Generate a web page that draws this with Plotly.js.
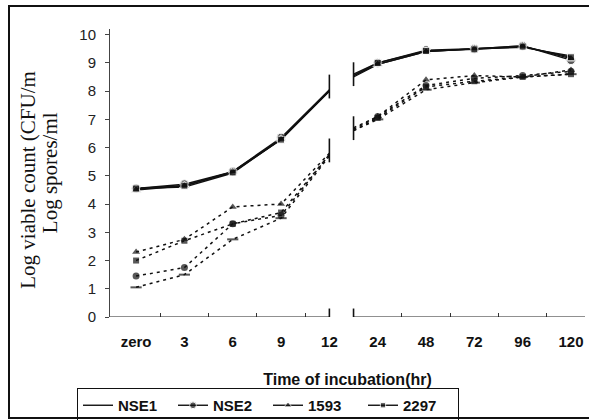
<!DOCTYPE html>
<html>
<head>
<meta charset="utf-8">
<script src="https://cdn.plot.ly/plotly-3.0.1.min.js"></script>
<style>
  body { margin: 0; background: #fff; }
  #wrap { position: relative; width: 589px; height: 420px; overflow: hidden; }
  #chart { position: absolute; left: 0; top: 0; width: 589px; height: 420px; }
  #frame { position: absolute; left: 8px; top: 5px; width: 600px; height: 410px;
           border: 2px solid #111; pointer-events: none; }
</style>
</head>
<body>
<div id="wrap"><div id="chart"></div><div id="frame"></div></div>
<script>
// Categories (time of incubation, hr)
const categories = ['zero', '3', '6', '9', '12', '24', '48', '72', '96', '120'];

// Log viable count (CFU/ml) - solid lines
const nse1Viable  = [4.55, 4.60, 5.10, 6.30, 8.00, 8.95, 9.40, 9.50, 9.55, 9.25];
const nse2Viable  = [4.55, 4.70, 5.15, 6.35, 8.05, 9.00, 9.45, 9.50, 9.60, 9.10];
const s1593Viable = [4.50, 4.65, 5.15, 6.30, 8.00, 8.95, 9.40, 9.50, 9.60, 9.15];
const s2297Viable = [4.55, 4.65, 5.12, 6.28, 8.00, 9.00, 9.42, 9.48, 9.58, 9.20];
// value where each solid line resumes after the axis break
const viableRestart = {NSE1: 8.50, NSE2: 8.60, '1593': 8.55, '2297': 8.55};

// Log spores/ml - dotted lines
const nse1Spores  = [1.05, 1.50, 2.75, 3.50, 5.70, 7.00, 8.05, 8.30, 8.50, 8.60];
const nse2Spores  = [1.45, 1.75, 3.30, 3.60, 5.75, 7.10, 8.20, 8.45, 8.55, 8.70];
const s1593Spores = [2.30, 2.75, 3.90, 4.00, 5.80, 7.10, 8.40, 8.55, 8.50, 8.75];
const s2297Spores = [2.00, 2.70, 3.30, 3.70, 5.75, 7.05, 8.15, 8.35, 8.50, 8.60];
const sporesRestart = {NSE1: 6.60, NSE2: 6.65, '1593': 6.70, '2297': 6.60};

const yTicks = [0, 1, 2, 3, 4, 5, 6, 7, 8, 9, 10];

// ---- build traces ----
const breakIdx = 4;          // '12' is the last category before the break
const breakGap = 0.5;        // the line resumes half a step after '12'
const pos = categories.map((c, i) => i);

function segX() {
  const xs = [];
  pos.forEach((p, i) => {
    xs.push(p);
    if (i === breakIdx) { xs.push(null); xs.push(p + breakGap); }
  });
  return xs;
}
function segY(vals, restart) {
  const ys = [];
  vals.forEach((v, i) => {
    ys.push(v);
    if (i === breakIdx) { ys.push(null); ys.push(restart); }
  });
  return ys;
}
function segSizes(size) {
  const s = [];
  pos.forEach((p, i) => {
    s.push(i === breakIdx ? 0 : size);
    if (i === breakIdx) { s.push(0); s.push(0); }
  });
  return s;
}

const styles = {
  NSE1:   {symbol: 'circle',      size: 0, dotSymbol: 'line-ew',     dotSize: 8},
  NSE2:   {symbol: 'circle',      size: 9, dotSymbol: 'circle',      dotSize: 7},
  '1593': {symbol: 'triangle-up', size: 9, dotSymbol: 'triangle-up', dotSize: 7},
  '2297': {symbol: 'square',      size: 7, dotSymbol: 'square',      dotSize: 6}
};
const viable = {NSE1: nse1Viable, NSE2: nse2Viable, '1593': s1593Viable, '2297': s2297Viable};
const spores = {NSE1: nse1Spores, NSE2: nse2Spores, '1593': s1593Spores, '2297': s2297Spores};
const names = ['NSE1', 'NSE2', '1593', '2297'];

const traces = [];
names.forEach(n => {
  const st = styles[n];
  traces.push({
    type: 'scatter', mode: st.size ? 'lines+markers' : 'lines', name: n,
    x: segX(), y: segY(viable[n], viableRestart[n]),
    line: {color: '#111', width: 1.4},
    marker: {symbol: st.symbol, size: segSizes(st.size), color: '#111'},
    showlegend: true, cliponaxis: false, hoverinfo: 'skip'
  });
});
names.forEach(n => {
  const st = styles[n];
  traces.push({
    type: 'scatter', mode: 'lines+markers', name: n + ' spores',
    x: segX(), y: segY(spores[n], sporesRestart[n]),
    line: {color: '#111', width: 1.5, dash: '3px,4px'},
    marker: {symbol: st.dotSymbol, size: segSizes(st.dotSize), color: '#111',
             line: {color: '#111', width: st.dotSymbol === 'line-ew' ? 2 : 0}},
    showlegend: false, hoverinfo: 'skip'
  });
});

// break bars at the end / restart of each group of lines
function mean(a) { return a.reduce((s, v) => s + v, 0) / a.length; }
const vEnd = mean(names.map(n => viable[n][breakIdx]));
const vRes = mean(names.map(n => viableRestart[n]));
const sEnd = mean(names.map(n => spores[n][breakIdx]));
const sRes = mean(names.map(n => sporesRestart[n]));
traces.push({
  type: 'scatter', mode: 'markers', showlegend: false, hoverinfo: 'skip',
  x: [breakIdx, breakIdx + breakGap, breakIdx, breakIdx + breakGap],
  y: [vEnd + 0.15, vRes + 0.05, sEnd + 0.15, sRes + 0.05],
  marker: {symbol: 'line-ns', size: 17, color: '#111', line: {color: '#111', width: 1.6}}
});

const xMin = -0.54, xMax = 9.29;
const shapes = [
  {type: 'line', xref: 'x', yref: 'y', x0: xMin, x1: breakIdx, y0: 0, y1: 0, line: {color: '#222', width: 1.2}},
  {type: 'line', xref: 'x', yref: 'y', x0: breakIdx + breakGap, x1: xMax, y0: 0, y1: 0, line: {color: '#222', width: 1.2}},
  {type: 'line', xref: 'x', yref: 'y', x0: breakIdx, x1: breakIdx, y0: -0.35, y1: 0.3, line: {color: '#111', width: 1.6}},
  {type: 'line', xref: 'x', yref: 'y', x0: breakIdx + breakGap, x1: breakIdx + breakGap, y0: -0.35, y1: 0.3, line: {color: '#111', width: 1.6}}
];

const minorTicks = [0.5, 1.5, 2.5, 3.5, 5.5, 6.5, 7.5, 8.5];

const layout = {
  width: 589, height: 420,
  margin: {l: 110, r: 4, t: 29, b: 103},
  paper_bgcolor: '#fff', plot_bgcolor: '#fff',
  showlegend: true,
  xaxis: {
    range: [xMin, xMax], showgrid: false, zeroline: false, showline: false, automargin: false,
    tickmode: 'array', tickvals: pos, ticktext: categories, ticks: '',
    ticklabelstandoff: 14,
    tickfont: {family: 'Liberation Sans, Arial, sans-serif', size: 15, color: '#111', weight: 'bold'},
    minor: {tickmode: 'array', tickvals: minorTicks, ticks: 'inside', ticklen: 4, tickcolor: '#333', tickwidth: 1},
    title: {text: 'Time of incubation(hr)', standoff: 26,
            font: {family: 'Liberation Sans, Arial, sans-serif', size: 16, color: '#111', weight: 'bold'}}
  },
  yaxis: {
    range: [0, 10.2], showgrid: false, zeroline: false, automargin: false,
    showline: true, linecolor: '#444', linewidth: 1,
    tickmode: 'array', tickvals: yTicks, ticks: 'outside', ticklen: 4, tickcolor: '#444',
    ticklabelstandoff: 6,
    tickfont: {family: 'Liberation Sans, Arial, sans-serif', size: 15, color: '#222'}
  },
  legend: {
    orientation: 'h', xref: 'container', yref: 'container',
    x: 77 / 589, xanchor: 'left', y: 1 - 388 / 420, yanchor: 'top',
    bordercolor: '#111', borderwidth: 1, bgcolor: '#fff',
    font: {family: 'Liberation Sans, Arial, sans-serif', size: 15, color: '#111', weight: 'bold'},
    tracegroupgap: 0, itemwidth: 30, entrywidth: 50, entrywidthmode: 'pixels'
  },
  annotations: [
    {text: 'Log viable count (CFU/m', xref: 'paper', yref: 'paper', x: -0.173, y: 0.476,
     xanchor: 'center', yanchor: 'middle', textangle: -90, showarrow: false,
     font: {family: 'Liberation Serif, Times New Roman, serif', size: 21, color: '#111'}},
    {text: 'Log spores/ml', xref: 'paper', yref: 'paper', x: -0.126, y: 0.5,
     xanchor: 'center', yanchor: 'middle', textangle: -90, showarrow: false,
     font: {family: 'Liberation Serif, Times New Roman, serif', size: 21, color: '#111'}}
  ],
  shapes: shapes
};

Plotly.newPlot('chart', traces, layout, {staticPlot: true, displayModeBar: false});
</script>
</body>
</html>
